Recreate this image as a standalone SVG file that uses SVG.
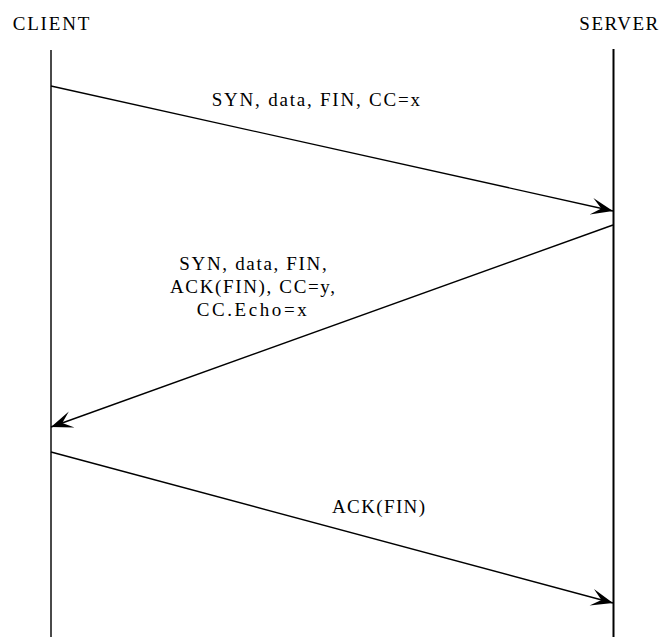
<svg xmlns="http://www.w3.org/2000/svg" width="661" height="637" viewBox="0 0 661 637">
<style>
text{font-family:"Liberation Serif","Times New Roman",serif;font-size:19px;fill:#000}
.life{stroke-width:2;fill:none}
.msg{stroke:#000;stroke-width:1.4;fill:none}
</style>
<defs>
<marker id="ah" markerUnits="userSpaceOnUse" viewBox="-24 -10 26 20" refX="0" refY="0" markerWidth="26" markerHeight="20" orient="auto">
<path d="M0,0 L-22,-8.5 L-12,0 L-22,8.5 Z" fill="#000"/>
</marker>
</defs>
<rect width="661" height="637" fill="#fff"/>
<g id="client">
<text x="12.7" y="30" textLength="76.6" lengthAdjust="spacing">CLIENT</text>
<line class="life" x1="51" y1="50" x2="51" y2="637" stroke="#4a4a4a"/>
</g>
<g id="server">
<text x="579.3" y="30" textLength="79" lengthAdjust="spacing">SERVER</text>
<line class="life" x1="613.5" y1="49" x2="613.5" y2="637" stroke="#000"/>
</g>
<g id="connectors">
<line class="msg" x1="51" y1="86" x2="613" y2="211" marker-end="url(#ah)"/>
<line class="msg" x1="613" y1="225" x2="51" y2="427" marker-end="url(#ah)"/>
<line class="msg" x1="51" y1="452" x2="613" y2="603" marker-end="url(#ah)"/>
</g>
<g id="labels">
<text x="211.7" y="106" textLength="208.3" lengthAdjust="spacing">SYN, data, FIN, CC=x</text>
<text x="179.3" y="270" textLength="147.4" lengthAdjust="spacing">SYN, data, FIN,</text>
<text x="170" y="293" textLength="165" lengthAdjust="spacing">ACK(FIN), CC=y,</text>
<text x="196.7" y="316" textLength="110" lengthAdjust="spacing">CC.Echo=x</text>
<text x="332" y="513" textLength="93" lengthAdjust="spacing">ACK(FIN)</text>
</g>
</svg>
